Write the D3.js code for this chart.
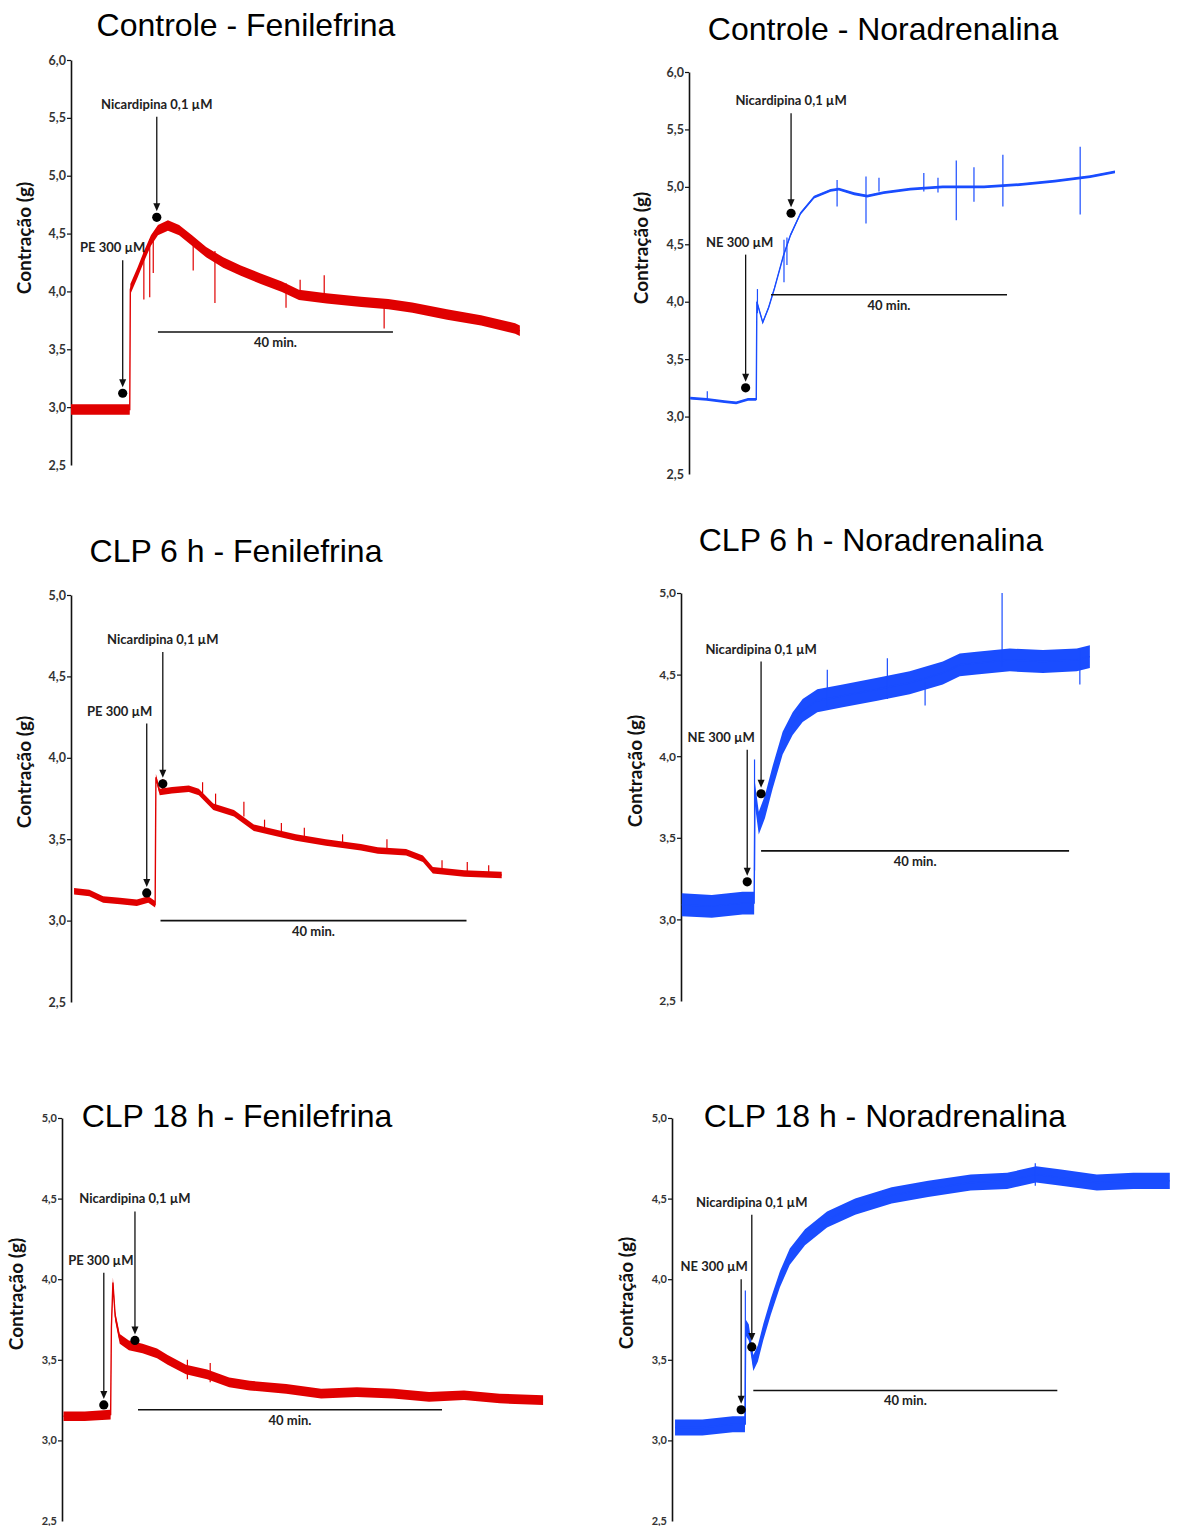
<!DOCTYPE html>
<html>
<head>
<meta charset="utf-8">
<script src="https://cdn.jsdelivr.net/npm/d3@7"></script>
<style>
  body { margin: 0; background: #fff; }
  svg { display: block; }
</style>
</head>
<body>
<svg id="chart" width="1177" height="1526"></svg>
<script>
// titles and tick values
const titles = [
  'Controle - Fenilefrina', 'Controle - Noradrenalina',
  'CLP 6 h - Fenilefrina', 'CLP 6 h - Noradrenalina',
  'CLP 18 h - Fenilefrina', 'CLP 18 h - Noradrenalina'
];
const ticksTall = [2.5, 3.0, 3.5, 4.0, 4.5, 5.0, 5.5, 6.0];
const ticksShort = [2.5, 3.0, 3.5, 4.0, 4.5, 5.0];
const yLabel = 'Contração (g)';
const barMinutes = 40;
const barLabel = '40 min.';

// traces: [minutes, grams]
const p1Trace = [[0,2.98],[10.0,2.98],[10.1,4.02],[11.3,4.16],[12.4,4.3],[13.6,4.44],[14.8,4.53],[16.5,4.57],[18.4,4.53],[20.6,4.44],[23.0,4.34],[25.9,4.25],[28.9,4.18],[32.3,4.11],[35.9,4.04],[38.8,3.97],[43.5,3.94],[49.4,3.91],[54.0,3.89],[58.1,3.86],[64.0,3.8],[69.8,3.75],[75.6,3.68],[76.4,3.66]];
const p2Trace = [[0.2,3.16],[3,3.15],[6,3.13],[8,3.12],[10,3.15],[11.4,3.15],[11.5,4.0],[12.5,3.82],[13.5,3.95],[14.5,4.12],[16,4.4],[17.2,4.58],[18.9,4.77],[21.2,4.91],[24,4.97],[25.4,4.98],[28,4.94],[30.2,4.92],[33,4.95],[37.5,4.98],[43,5.0],[50,5.0],[56,5.02],[62,5.05],[68,5.09],[72.2,5.13]];
const p3Trace = [[0.4,3.18],[2.4,3.17],[4.2,3.13],[6.4,3.12],[8.6,3.11],[10.1,3.13],[11.0,3.1],[11.1,3.88],[11.6,3.79],[13.2,3.8],[15.4,3.81],[16.7,3.79],[18.6,3.7],[21.3,3.66],[23.9,3.57],[26.7,3.54],[29.4,3.51],[33.3,3.48],[37.9,3.45],[40.1,3.43],[43.8,3.42],[46.0,3.38],[47.3,3.31],[51.4,3.29],[56.3,3.28]];
const p4Trace = [[0.1,3.09],[4,3.08],[8,3.1],[9.5,3.1],[9.6,3.77],[10.1,3.59],[10.9,3.69],[11.9,3.87],[13.2,4.08],[14.5,4.2],[15.8,4.28],[17.7,4.34],[21.0,4.37],[25.5,4.41],[29.7,4.45],[34.0,4.51],[36.2,4.56],[38.4,4.57],[42.7,4.59],[47.0,4.58],[51.4,4.59],[53.1,4.61]];
const p5Trace = [[0.2,3.15],[3,3.15],[6.4,3.16],[6.5,3.7],[6.7,3.98],[7.0,3.77],[7.6,3.63],[8.8,3.59],[10.6,3.57],[12.5,3.54],[13.9,3.5],[16.3,3.44],[19.1,3.41],[22.0,3.36],[24.7,3.34],[29.5,3.32],[34.1,3.29],[38.8,3.3],[43.6,3.29],[48.3,3.27],[52.9,3.28],[57.6,3.26],[63.3,3.25]];
const p6Trace = [[0.4,3.08],[4,3.08],[8,3.1],[9.6,3.1],[9.7,3.7],[10.1,3.67],[10.7,3.48],[11.3,3.54],[12.0,3.67],[13.0,3.83],[14.2,4.0],[15.5,4.14],[17.5,4.26],[20.4,4.37],[24.1,4.45],[28.9,4.52],[33.7,4.56],[39.3,4.6],[44.1,4.61],[47.9,4.65],[51.2,4.63],[55.9,4.6],[60.7,4.61],[65.5,4.61]];

// noise half-width of each trace, grams
const traceSpread = [0.045, 0.012, 0.02, 0.07, 0.03, 0.05];

// artefact spikes: [minutes, high, low]
const p1Spikes = [[12.4,4.35,3.93],[13.4,4.45,3.95],[14.0,4.5,4.16],[20.8,4.45,4.18],[24.5,4.35,3.9],[36.6,4.07,3.86],[39.0,4.1,3.95],[43.1,4.14,3.92],[53.3,3.92,3.68]];
const p2Spikes = [[3.1,3.22,3.15],[11.6,4.11,3.9],[16.1,4.54,4.17],[16.6,4.56,4.32],[25.1,5.06,4.83],[30.0,5.09,4.68],[32.2,5.08,4.96],[39.8,5.12,4.96],[42.2,5.08,4.95],[45.3,5.23,4.71],[48.3,5.17,4.87],[53.2,5.28,4.83],[66.3,5.35,4.76]];
const p3Spikes = [[12.0,3.87,3.78],[17.2,3.85,3.78],[18.9,3.78,3.7],[22.6,3.73,3.64],[25.3,3.62,3.55],[27.5,3.6,3.53],[30.5,3.57,3.5],[35.5,3.53,3.46],[41.3,3.5,3.42],[48.5,3.37,3.29],[51.8,3.36,3.28],[54.6,3.34,3.27]];
const p4Spikes = [[9.55,3.98,3.3],[19.0,4.53,4.3],[26.8,4.6,4.35],[31.7,4.45,4.31],[41.7,5.0,4.55],[51.8,4.65,4.44]];
const p5Spikes = [[16.5,3.5,3.38],[19.5,3.48,3.36]];
const p6Spikes = [[9.65,3.93,3.1],[47.8,4.72,4.58]];

// drug additions: [label, minutes, arrow top (g), dot (g)]
const agonists = [
  ['PE 300 µM', 8.8, 4.27, 3.12],
  ['NE 300 µM', 9.6, 4.41, 3.25],
  ['PE 300 µM', 9.9, 4.21, 3.17],
  ['NE 300 µM', 8.6, 4.04, 3.23],
  ['PE 300 µM', 5.5, 4.04, 3.22],
  ['NE 300 µM', 9.1, 4.0, 3.19]
];
const nicardipine = [
  ['Nicardipina 0,1 µM', 14.6, 5.51, 4.64],
  ['Nicardipina 0,1 µM', 17.3, 5.64, 4.77],
  ['Nicardipina 0,1 µM', 12.0, 4.65, 3.84],
  ['Nicardipina 0,1 µM', 10.4, 4.58, 3.77],
  ['Nicardipina 0,1 µM', 9.6, 4.42, 3.62],
  ['Nicardipina 0,1 µM', 10.5, 4.4, 3.58]
];
// 40 min scale bar: [start minute, level (g)]
const scaleBars = [[14.8,3.65],[13.9,4.06],[11.7,3.0],[10.4,3.42],[10.0,3.19],[10.7,3.31]];

const RED = '#e00000';
const BLUE = '#1a4dff';

// page layout of the six panels
const layout = [
  { trace: p1Trace, spikes: p1Spikes, color: RED,  x0: 71,  ppm: 5.875, yTop: 60,   yBot: 465,  ticks: ticksTall,  tickFont: 12.5, titleX: 246, titleY: 36,   labelX: 24,  labelY: 238,  agoDx: -10 },
  { trace: p2Trace, spikes: p2Spikes, color: BLUE, x0: 689, ppm: 5.9,   yTop: 72,   yBot: 474,  ticks: ticksTall,  tickFont: 12.5, titleX: 883, titleY: 40,   labelX: 641, labelY: 248,  agoDx: -6 },
  { trace: p3Trace, spikes: p3Spikes, color: RED,  x0: 71,  ppm: 7.65,  yTop: 595,  yBot: 1002, ticks: ticksShort, tickFont: 12.5, titleX: 236, titleY: 562,  labelX: 24,  labelY: 772,  agoDx: -27 },
  { trace: p4Trace, spikes: p4Spikes, color: BLUE, x0: 681, ppm: 7.7,   yTop: 593,  yBot: 1001, ticks: ticksShort, tickFont: 12,   titleX: 871, titleY: 551,  labelX: 635, labelY: 771,  agoDx: -26 },
  { trace: p5Trace, spikes: p5Spikes, color: RED,  x0: 62,  ppm: 7.6,   yTop: 1118, yBot: 1521, ticks: ticksShort, tickFont: 11,   titleX: 237, titleY: 1127, labelX: 16,  labelY: 1294, agoDx: -3 },
  { trace: p6Trace, spikes: p6Spikes, color: BLUE, x0: 672, ppm: 7.6,   yTop: 1118, yBot: 1521, ticks: ticksShort, tickFont: 11,   titleX: 885, titleY: 1127, labelX: 626, labelY: 1293, agoDx: -27 }
];

const svg = d3.select('#chart');
const fmt = d => d3.format('.1f')(d).replace('.', ',');
const labelFont = 'Lato, "Open Sans", sans-serif';

layout.forEach((p, i) => {
  const g = svg.append('g');
  const tEnd = d3.max(p.trace, d => d[0]);
  const x = d3.scaleLinear().domain([0, tEnd]).range([p.x0, p.x0 + tEnd * p.ppm]);
  const y = d3.scaleLinear().domain([2.5, d3.max(p.ticks)]).range([p.yBot, p.yTop]);
  const spread = traceSpread[i];

  // title
  g.append('text')
    .attr('x', p.titleX).attr('y', p.titleY)
    .attr('text-anchor', 'middle')
    .style('font-family', '"Liberation Sans", Arial, sans-serif')
    .style('font-size', '32px')
    .attr('fill', '#000')
    .text(titles[i]);

  // y axis
  const axis = g.append('g')
    .attr('transform', `translate(${p.x0},0)`)
    .call(d3.axisLeft(y).tickValues(p.ticks).tickSize(4).tickSizeOuter(0).tickPadding(1).tickFormat(fmt));
  axis.select('.domain').attr('stroke', '#111').attr('stroke-width', 1.6);
  axis.selectAll('.tick line').attr('stroke', '#111').attr('stroke-width', 1.2)
    .filter(d => d === 2.5).remove();
  axis.selectAll('.tick text')
    .style('font-family', labelFont).style('font-weight', 700)
    .style('font-size', p.tickFont + 'px').attr('fill', '#333');

  // y label
  g.append('text')
    .attr('transform', `translate(${p.labelX},${p.labelY}) rotate(-90)`)
    .attr('text-anchor', 'middle').attr('dy', '0.35em')
    .style('font-family', labelFont).style('font-weight', 700).style('font-size', '19px')
    .attr('fill', '#111')
    .text(yLabel);

  // noise band + centre line
  const band = d3.area()
    .x(d => x(d[0]))
    .y0(d => y(d[1] - spread))
    .y1(d => y(d[1] + spread));
  g.append('path').datum(p.trace)
    .attr('d', band).attr('fill', p.color);
  g.append('path').datum(p.trace)
    .attr('d', d3.line().x(d => x(d[0])).y(d => y(d[1])))
    .attr('fill', 'none').attr('stroke', p.color).attr('stroke-width', 1.4);

  // spikes
  g.selectAll('line.spike').data(p.spikes).join('line')
    .attr('class', 'spike')
    .attr('x1', d => x(d[0])).attr('x2', d => x(d[0]))
    .attr('y1', d => y(d[1])).attr('y2', d => y(d[2]))
    .attr('stroke', p.color).attr('stroke-width', 1.2);

  // drug arrows
  const drugs = [
    { d: agonists[i], dx: p.agoDx },
    { d: nicardipine[i], dx: 0 }
  ];
  drugs.forEach(({ d, dx }) => {
    const ax = x(d[1]);
    const top = y(d[2]);
    const dotY = y(d[3]);
    const tip = dotY - 6;
    g.append('line')
      .attr('x1', ax).attr('x2', ax)
      .attr('y1', top).attr('y2', tip - 6)
      .attr('stroke', '#111').attr('stroke-width', 1.3);
    g.append('path')
      .attr('d', `M${ax - 3.5},${tip - 8}L${ax + 3.5},${tip - 8}L${ax},${tip}Z`)
      .attr('fill', '#111');
    g.append('circle')
      .attr('cx', ax).attr('cy', dotY).attr('r', 4.6).attr('fill', '#000');
    g.append('text')
      .attr('x', ax + dx).attr('y', top - 8)
      .attr('text-anchor', 'middle')
      .style('font-family', labelFont).style('font-weight', 700).style('font-size', '13px')
      .attr('fill', '#222')
      .text(d[0]);
  });

  // 40 min scale bar
  const [b0, bLevel] = scaleBars[i];
  g.append('line')
    .attr('x1', x(b0)).attr('x2', x(b0 + barMinutes))
    .attr('y1', y(bLevel)).attr('y2', y(bLevel))
    .attr('stroke', '#111').attr('stroke-width', 1.6);
  g.append('text')
    .attr('x', (x(b0) + x(b0 + barMinutes)) / 2).attr('y', y(bLevel) + 15)
    .attr('text-anchor', 'middle')
    .style('font-family', labelFont).style('font-weight', 700).style('font-size', '13px')
    .attr('fill', '#222')
    .text(barLabel);
});
</script>
</body>
</html>
